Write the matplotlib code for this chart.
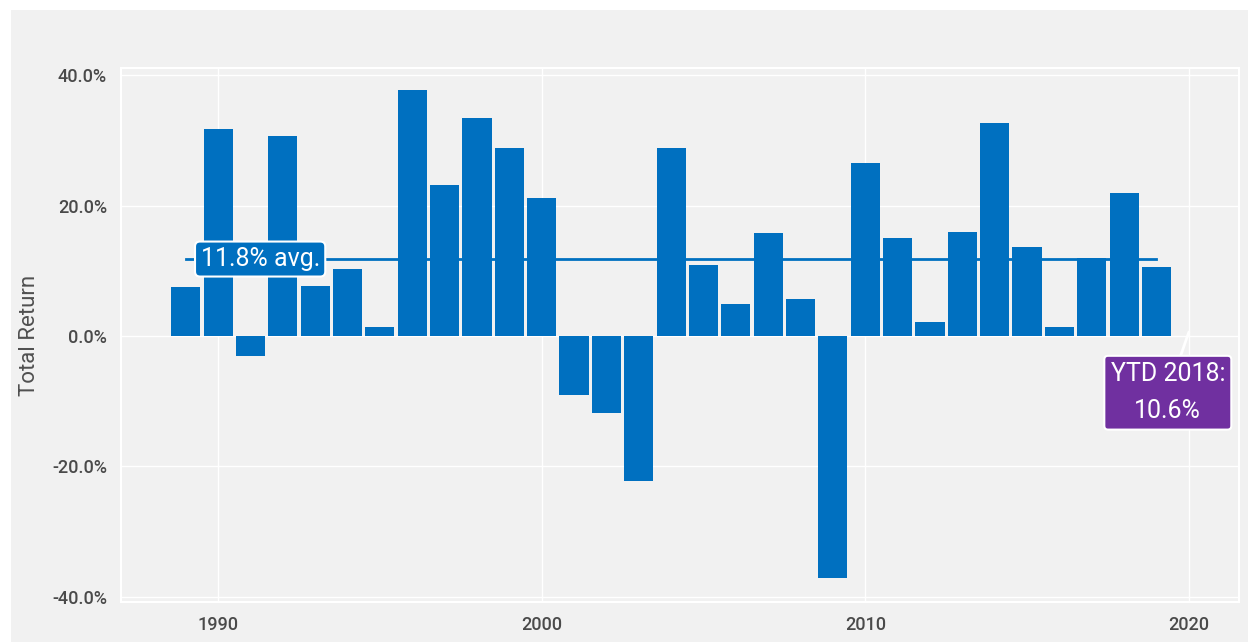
import matplotlib.pyplot as plt
from matplotlib.patches import Rectangle
from matplotlib.ticker import FuncFormatter

# annual total returns (%)
years = list(range(1989, 2020))
returns = [7.5, 31.8, -3.1, 30.6, 7.7, 10.2, 1.4, 37.7, 23.1, 33.5, 28.8,
           21.1, -9.1, -11.8, -22.2, 28.8, 10.9, 4.9, 15.8, 5.7, -37.1,
           26.6, 15.1, 2.1, 16.0, 32.6, 13.7, 1.4, 12.0, 22.0, 10.6]
avgReturn = 11.8
ytdLabel = 'YTD 2018:\n10.6%'
avgLabel = '11.8% avg.'

blue = '#0070c0'
purple = '#7030a0'
panel = '#f1f1f1'

plt.rcParams['font.family'] = ['Roboto', 'DejaVu Sans']

fig = plt.figure(figsize=(12.48, 6.42), dpi=100)
fig.patch.set_facecolor('white')
fig.patches.append(Rectangle((11 / 1248, 0), 1, (642 - 10) / 642,
                             transform=fig.transFigure, facecolor=panel,
                             edgecolor='none', zorder=-10))

ax = fig.add_axes([121 / 1248, 1 - 602 / 642, (1239 - 121) / 1248, (602 - 68) / 642])
ax.set_facecolor(panel)
ax.bar(years, returns, width=0.9, color=blue, zorder=3)

ax.set_xlim(1987.0, 2021.55)
ax.set_ylim(-40.8, 41.1)
ax.set_xticks([1990, 2000, 2010, 2020])
ax.set_yticks([-40, -20, 0, 20, 40])
ax.yaxis.set_major_formatter(FuncFormatter(lambda v, p: f'{v:.1f}%'))
ax.tick_params(length=0, labelsize=13, colors='#4a4a4a', pad=10)
for lbl in ax.get_xticklabels() + ax.get_yticklabels():
    lbl.set_fontweight('medium')
ax.grid(True, color='white', linewidth=1, zorder=1)
for s in ax.spines.values():
    s.set_color('white')
    s.set_linewidth(1.5)
ax.set_ylabel('Total Return', fontsize=16, color='#505050')
ax.yaxis.set_label_coords(-0.0725, 0.5)

# average line and its label
ax.plot([years[0], years[-1]], [avgReturn, avgReturn], color=blue, lw=2, zorder=4)
ax.text(1991.3, avgReturn, avgLabel, fontsize=18, color='white', ha='center',
        va='center', zorder=6,
        bbox=dict(boxstyle='round,pad=0.22,rounding_size=0.2', fc=blue, ec='white', lw=1.5))

# YTD callout
ax.annotate(ytdLabel, xy=(2020.0, 0.6), xytext=(2019.35, -8.7), fontsize=18,
            color='white', ha='center', va='center', linespacing=1.7, zorder=6,
            bbox=dict(boxstyle='round,pad=0.25,rounding_size=0.15', fc=purple, ec='white', lw=1.5),
            arrowprops=dict(arrowstyle='-', color='white', lw=2, shrinkA=0, shrinkB=0))

fig.savefig('out.png', dpi=100)
